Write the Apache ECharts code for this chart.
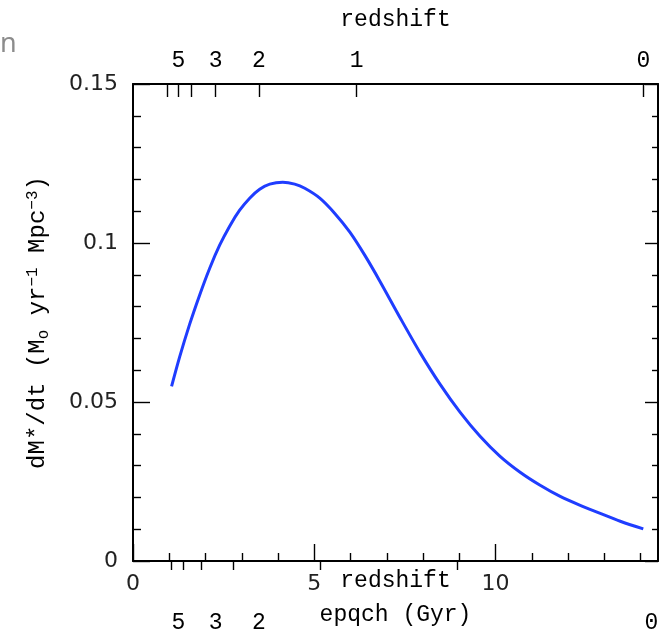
<!DOCTYPE html>
<html>
<head>
<meta charset="utf-8">
<script src="https://cdn.jsdelivr.net/npm/echarts@6/dist/echarts.min.js"></script>
<style>html,body{margin:0;padding:0;background:#fff}#c{width:664px;height:638px}</style>
</head>
<body>
<div id="c"></div>
<script>
// cosmic time (Gyr) and star formation rate density (Msun/yr/Mpc^3)
const ageGyr = [1.064,1.285,1.561,1.837,2.113,2.390,2.666,2.942,3.218,3.494,3.771,4.130,4.461,4.738,5.152,5.566,5.981,6.395,6.809,7.362,7.914,8.467,9.019,9.572,10.124,10.677,11.229,11.782,12.334,12.887,13.439,14.074];
const sfrd   = [0.0549,0.0641,0.0744,0.0836,0.0920,0.0993,0.1053,0.1103,0.1141,0.1169,0.1185,0.1191,0.1185,0.1172,0.1141,0.1093,0.1034,0.0961,0.0880,0.0766,0.0656,0.0556,0.0468,0.0392,0.0329,0.0279,0.0238,0.0203,0.0175,0.0150,0.0125,0.0101];

// bottom (time) axis
const timeMajorTicks = [0, 5, 10];
const timeMinorTicks = [1, 2, 3, 4, 6, 7, 8, 9, 11, 12, 13, 14];
const timeLabels = [0, 5, 10];

// top (redshift) axis, positions in Gyr
const zMajorTickTimes = [0.945, 1.249, 1.616, 2.279, 3.475, 6.166, 14.08];
const zMinorTickTimes = [1.055, 1.395, 1.892, 2.768, 5.152, 8.956];
const zLabelTimes = [1.249, 2.279, 3.475, 6.166, 14.08];
const zLabels = ['5', '3', '2', '1', '0'];
const zBottomLabelTimes = [1.249, 2.279, 3.475, 14.30];
const zBottomLabels = ['5', '3', '2', '0'];

const xMax = 14.48;
const serif = 'Liberation Mono';
const sans = 'DejaVu Sans';

function lookup(times, labels) {
  return function (v) {
    for (let i = 0; i < times.length; i++) if (Math.abs(times[i] - v) < 1e-6) return labels[i];
    return '';
  };
}

const chart = echarts.init(document.getElementById('c'), null, {renderer: 'canvas'});
const lineStyleAxis = {color: '#000', width: 2};
const tickStyle = {color: '#000', width: 1.4};
const baseX = {type: 'value', min: 0, max: xMax, gridIndex: 0, splitLine: {show: false}, nameMoveOverlap: false};
const serifText = {fontFamily: serif, fontSize: 23, color: '#000'};

chart.setOption({
  animation: false,
  grid: {left: 133, right: 6, top: 84, bottom: 77, containLabel: false},
  graphic: [{type: 'text', left: 0, top: 31, style: {text: 'n', fontSize: 27, fontFamily: 'Noto Sans', fill: '#8c8c8c'}}],
  xAxis: [
    Object.assign({}, baseX, {
      position: 'bottom',
      axisLine: {show: true, onZero: false, lineStyle: lineStyleAxis},
      axisTick: {show: true, inside: true, length: 17, lineStyle: tickStyle, customValues: timeMajorTicks},
      axisLabel: {show: true, margin: 12, customValues: timeLabels, fontFamily: sans, fontSize: 22, color: '#222'},
      name: 'redshift', nameLocation: 'middle', nameGap: 20,
      nameTextStyle: Object.assign({verticalAlign: 'middle'}, serifText)
    }),
    Object.assign({}, baseX, {
      position: 'bottom',
      axisLine: {show: false},
      axisTick: {show: true, inside: true, length: 8, lineStyle: tickStyle, customValues: timeMinorTicks},
      axisLabel: {show: false}
    }),
    Object.assign({}, baseX, {
      position: 'top',
      axisLine: {show: true, onZero: false, lineStyle: lineStyleAxis},
      axisTick: {show: true, inside: true, length: 13, lineStyle: tickStyle, customValues: zMajorTickTimes},
      axisLabel: Object.assign({show: true, margin: 12, customValues: zLabelTimes, formatter: lookup(zLabelTimes, zLabels)}, serifText),
      name: 'redshift', nameLocation: 'middle', nameGap: 64,
      nameTextStyle: Object.assign({verticalAlign: 'middle'}, serifText)
    }),
    Object.assign({}, baseX, {
      position: 'top',
      axisLine: {show: false},
      axisTick: {show: true, inside: true, length: 9, lineStyle: tickStyle, customValues: zMinorTickTimes},
      axisLabel: {show: false}
    }),
    Object.assign({}, baseX, {
      position: 'bottom',
      axisLine: {show: false},
      axisTick: {show: false},
      axisLabel: Object.assign({show: true, margin: 50, customValues: zBottomLabelTimes, formatter: lookup(zBottomLabelTimes, zBottomLabels)}, serifText),
      name: 'epqch (Gyr)', nameLocation: 'middle', nameGap: 54,
      nameTextStyle: Object.assign({verticalAlign: 'middle'}, serifText)
    })
  ],
  yAxis: [
    {
      type: 'value', min: 0, max: 0.15, interval: 0.05, position: 'left',
      splitLine: {show: false},
      axisLine: {show: true, onZero: false, lineStyle: lineStyleAxis},
      axisTick: {show: true, inside: true, length: 17, lineStyle: tickStyle},
      minorTick: {show: true, splitNumber: 5, length: 8, lineStyle: tickStyle},
      axisLabel: {show: true, margin: 15, fontFamily: sans, fontSize: 22, color: '#222',
        formatter: function (v) { return String(Math.round(v * 100) / 100); }},
      name: '{n|dM*/dt (M}{sub|o}{n| yr}{sup|−1}{n| Mpc}{sup|−3}{n|)}',
      nameLocation: 'middle', nameGap: 95, nameRotate: 90, nameMoveOverlap: false,
      nameTextStyle: {verticalAlign: 'middle', rich: {
        n: {fontFamily: serif, fontSize: 24, color: '#000'},
        sub: {fontFamily: serif, fontSize: 16, color: '#000', padding: [11, 0, 0, 0]},
        sup: {fontFamily: serif, fontSize: 16, color: '#000', padding: [0, 0, 11, 0]}
      }}
    },
    {
      type: 'value', min: 0, max: 0.15, interval: 0.05, position: 'right',
      splitLine: {show: false},
      axisLine: {show: true, onZero: false, lineStyle: lineStyleAxis},
      axisTick: {show: true, inside: true, length: 13, lineStyle: tickStyle},
      minorTick: {show: true, splitNumber: 5, length: 6, lineStyle: tickStyle},
      axisLabel: {show: false}
    }
  ],
  series: [{
    type: 'line', xAxisIndex: 0, yAxisIndex: 0,
    data: ageGyr.map((t, i) => [t, sfrd[i]]),
    smooth: 0.3, showSymbol: false,
    lineStyle: {color: '#1f3dff', width: 3},
    clip: false
  }]
});
</script>
</body>
</html>
